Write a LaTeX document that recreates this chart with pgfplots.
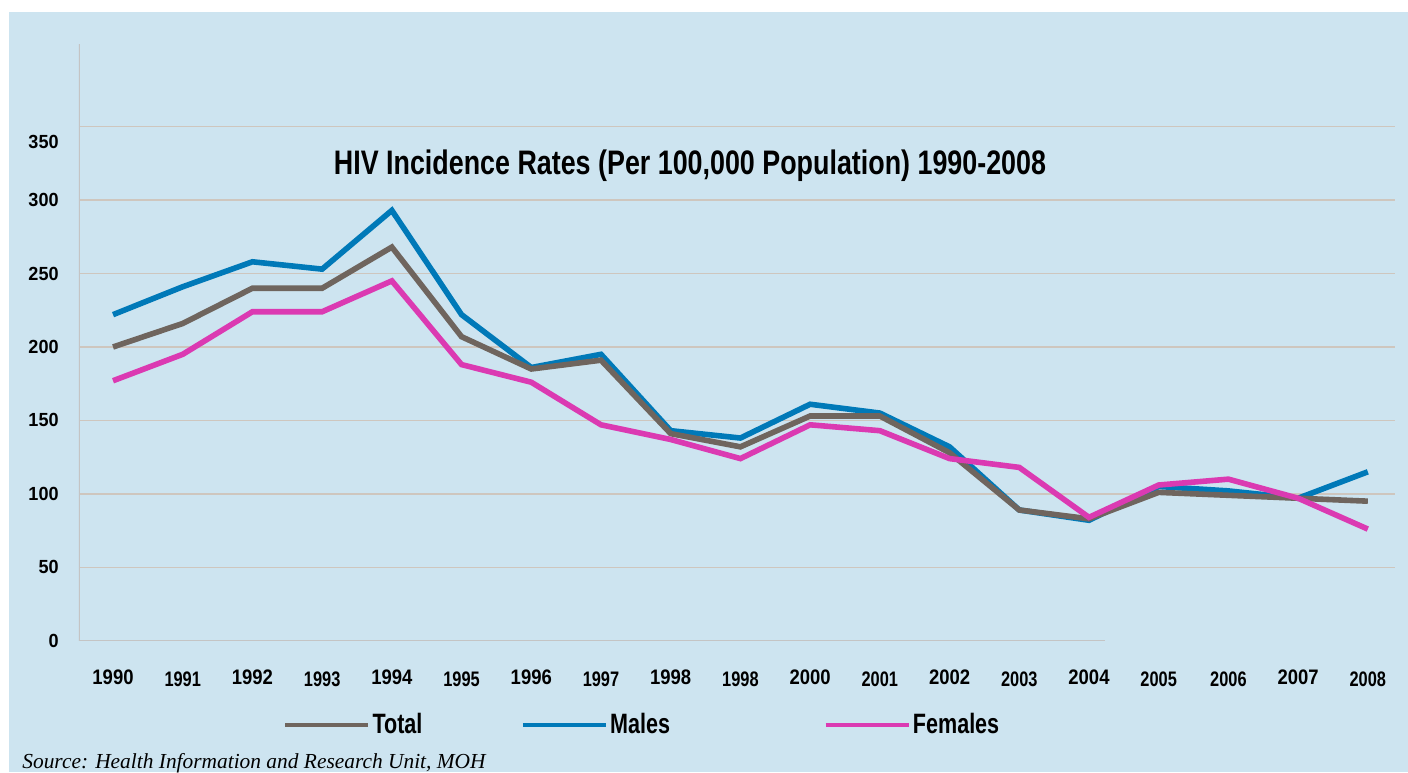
\documentclass[border=0pt]{standalone}
\usepackage{fontspec}
\usepackage{pgfplots}
\pgfplotsset{compat=1.18}
\setmainfont{Liberation Sans}
\newfontfamily\ttlfont[FakeStretch=0.79]{Liberation Sans}
\newfontfamily\legfont[FakeStretch=0.77]{Liberation Sans}
\newfontfamily\bigyr[FakeStretch=0.88]{Liberation Sans}
\newfontfamily\smyr[FakeStretch=0.78]{Liberation Sans}
\newfontfamily\yfont[FakeStretch=0.95]{Liberation Sans}
\newfontfamily\srcfont{Liberation Serif}
\definecolor{bgblue}{RGB}{205,228,240}
\definecolor{gridcol}{RGB}{206,198,190}
\definecolor{axcol}{RGB}{196,196,196}
\definecolor{totcol}{RGB}{111,101,94}
\definecolor{malecol}{RGB}{0,121,184}
\definecolor{femcol}{RGB}{219,58,178}
\newcommand{\B}[1]{{\bigyr\bfseries\fontsize{10.5}{12}\selectfont #1}}
\newcommand{\Sm}[1]{\raisebox{-1pt}{\smyr\bfseries\fontsize{10.5}{12}\selectfont #1}}

\pgfplotstableread{
idx total males females
0  200 222 177
1  216 241 195
2  240 258 224
3  240 253 224
4  268 293 245
5  207 222 188
6  185 186 176
7  191 195 147
8  141 143 137
9  132 138 124
10 153 161 147
11 153 155 143
12 128 132 124
13 89  89  118
14 83  82  84
15 101 105 106
16 99  102 110
17 97  97  97
18 95  115 76
}\datatable

\begin{document}
\begin{tikzpicture}
\useasboundingbox (0pt,0pt) rectangle (704pt,386pt);
\fill[white] (0pt,0pt) rectangle (704pt,386pt);
\fill[bgblue] (4.5pt,0pt) rectangle (704pt,380pt);
\begin{axis}[
  scale only axis, width=658pt, height=298.35pt,
  at={(39.5pt,65.65pt)}, anchor=south west,
  xmin=-0.488, xmax=18.39, ymin=0, ymax=406.3,
  axis line style={draw=none},
  major tick length=0pt,
  xtick={0,...,18},
  xticklabels={\B{1990},\Sm{1991},\B{1992},\Sm{1993},\B{1994},\Sm{1995},\B{1996},\Sm{1997},\B{1998},\Sm{1998},\B{2000},\Sm{2001},\B{2002},\Sm{2003},\B{2004},\Sm{2005},\Sm{2006},\B{2007},\Sm{2008}},
  xticklabel style={anchor=base, inner sep=0pt, yshift=-21.65pt},
  ytick={50,100,...,350},
  yticklabels={50,100,150,200,250,300,\smash{\raisebox{-10.9pt}{350}}},
  extra y ticks={0}, extra y tick labels={0},
  extra y tick style={grid=none},
  yticklabel style={anchor=east, inner sep=0pt, xshift=-10pt, font=\yfont\bfseries\fontsize{9.5}{11}\selectfont},
  ymajorgrids, grid style={gridcol, line width=0.75pt},
  legend columns=3,
  legend style={at={(0.1545,-0.1413)}, anchor=west, draw=none, fill=none,
    inner sep=0pt, nodes={inner sep=0pt},
    font=\legfont\bfseries\fontsize{14}{16}\selectfont,
    /tikz/every odd column/.append style={column sep=1pt},
    /tikz/every even column/.append style={column sep=0pt}},
  legend image code/.code={\draw[#1, line width=2.4pt] (0pt,0pt) -- (41.5pt,0pt);},
]
\addlegendimage{totcol}
\addlegendentry{Total\hspace*{49pt}}
\addlegendimage{malecol}
\addlegendentry{Males\hspace*{76.5pt}}
\addlegendimage{femcol}
\addlegendentry{Females}
\addplot[malecol, line width=2.8pt, forget plot] table[x=idx, y=males] {\datatable};
\addplot[totcol, line width=2.8pt, forget plot] table[x=idx, y=total] {\datatable};
\addplot[femcol, line width=2.8pt, forget plot] table[x=idx, y=females] {\datatable};
\draw[axcol, line width=1pt] (rel axis cs:0,0) -- (rel axis cs:0,1);
\draw[axcol, line width=1.2pt] (rel axis cs:0,0) -- (axis cs:14.23,0);
\end{axis}
\node[font=\ttlfont\bfseries\fontsize{17}{20}\selectfont, anchor=base] at (345pt,298.5pt) {HIV Incidence Rates (Per 100,000 Population) 1990-2008};
\node[font=\srcfont\itshape\fontsize{10.7}{12}\selectfont, anchor=base west, inner sep=0pt] at (11pt,2pt) {Source: Health Information and Research Unit, MOH};
\end{tikzpicture}
\end{document}
